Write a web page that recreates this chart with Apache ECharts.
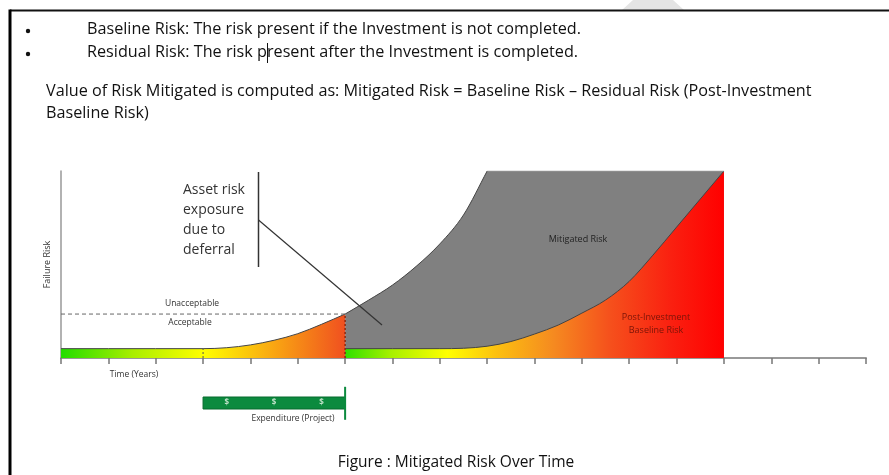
<!DOCTYPE html>
<html>
<head>
<meta charset="utf-8">
<script src="https://cdn.jsdelivr.net/npm/echarts@6/dist/echarts.min.js"></script>
<style>
  html, body { margin: 0; padding: 0; background: #fff; }
  #chart { width: 889px; height: 475px; }
</style>
</head>
<body>
<div id="chart"></div>
<script>
  // time in years (x), failure risk 0-100 (y)
  const timeTicks = [0, 17];
  const riskRange = [0, 100];

  // baseline risk before the investment is done
  const baselineBefore = [
    [0, 5], [1, 5], [2, 5], [3, 5], [3.5, 5.5], [4, 7], [4.5, 9.5],
    [5, 13], [5.5, 18], [6, 23.5]
  ];
  // baseline risk if the investment is deferred
  const baselineAfter = [
    [6, 23.5], [6.5, 31], [7, 39], [7.5, 49], [8, 61], [8.5, 76.5], [9, 100]
  ];
  const baselineCap = [[9, 100], [14, 100]];
  // residual risk once the investment is completed
  const residualRisk = [
    [6, 5], [7, 5], [8, 5], [8.5, 5.2], [9, 6.3], [9.5, 8.8], [10, 12.8],
    [10.5, 17.6], [11, 24], [11.5, 31], [12, 41], [12.5, 55], [13, 70],
    [13.5, 85], [14, 100]
  ];
  const threshold = [[0, 23.5], [6, 23.5]];
  const investLine = [[6, 0], [6, 23.5]];
  const midLine = [[3, 0], [3, 5]];

  // expenditure (project) span and the $ marks
  const expenditure = [[3, 6]];
  const dollars = [[3.5, 0.5], [4.5, 0.5], [5.5, 0.5]];
  const expEnd = [[6, -0.9], [6, 1.85]];

  const chart = echarts.init(document.getElementById('chart'));
  const lbl = 'Open Sans';
  const docFont = '16.2px "Open Sans"';
  const grad = (stops) => new echarts.graphic.LinearGradient(0, 0, 1, 0, stops);

  // monotone cubic path through pixel points (x increasing)
  function curvePath(pts, move) {
    const n = pts.length, d = [], m = [];
    for (let i = 0; i < n - 1; i++) d[i] = (pts[i + 1][1] - pts[i][1]) / (pts[i + 1][0] - pts[i][0]);
    m[0] = d[0]; m[n - 1] = d[n - 2];
    for (let i = 1; i < n - 1; i++) m[i] = d[i - 1] * d[i] <= 0 ? 0 : (d[i - 1] + d[i]) / 2;
    for (let i = 0; i < n - 1; i++) {
      if (d[i] === 0) { m[i] = 0; m[i + 1] = 0; continue; }
      const a = m[i] / d[i], b = m[i + 1] / d[i], s = a * a + b * b;
      if (s > 9) { const t = 3 / Math.sqrt(s); m[i] = t * a * d[i]; m[i + 1] = t * b * d[i]; }
    }
    let p = (move ? 'M' : 'L') + pts[0][0] + ',' + pts[0][1];
    for (let i = 0; i < n - 1; i++) {
      const h = (pts[i + 1][0] - pts[i][0]) / 3;
      p += ' C' + (pts[i][0] + h) + ',' + (pts[i][1] + m[i] * h) + ' ' +
        (pts[i + 1][0] - h) + ',' + (pts[i + 1][1] - m[i + 1] * h) + ' ' +
        pts[i + 1][0] + ',' + pts[i + 1][1];
    }
    return p;
  }

  // filled region under a curve (plus optional straight tail), outlined on top
  function areaSeries(curve, tail, fill, z) {
    return {
      type: 'custom', z, data: [[curve[0][0], curve[0][1]]],
      renderItem(params, api) {
        const pts = curve.map(p => api.coord(p));
        const tailPts = (tail || []).map(p => api.coord(p));
        const lastX = tail ? tail[tail.length - 1][0] : curve[curve.length - 1][0];
        const b1 = api.coord([lastX, 0]);
        const b0 = api.coord([curve[0][0], 0]);
        const top = curvePath(pts, true) + tailPts.map(p => ' L' + p[0] + ',' + p[1]).join('');
        const area = top + ' L' + b1[0] + ',' + b1[1] + ' L' + b0[0] + ',' + b0[1] + ' Z';
        return {
          type: 'group',
          children: [
            { type: 'path', shape: { pathData: area }, style: { fill, stroke: null } },
            { type: 'path', shape: { pathData: curvePath(pts, true) }, style: { fill: null, stroke: '#444', lineWidth: 1 } }
          ]
        };
      }
    };
  }

  // where the text cursor sits in the second bullet
  const ctx = document.createElement('canvas').getContext('2d');
  ctx.font = docFont;
  const cursorX = Math.round(87 + ctx.measureText('Residual Risk: The risk p').width) + 0.5;

  const txt = (x, y, text, font, fill, align, extra) => ({
    type: 'text', x, y, z: 100,
    style: Object.assign({ text, font, fill, align: align || 'left', verticalAlign: 'middle' }, extra || {})
  });

  chart.setOption({
    animation: false,
    grid: [
      { left: 61, right: 23, top: 171, bottom: 117 },
      { left: 61, right: 23, top: 385, bottom: 54 }
    ],
    xAxis: [
      {
        type: 'value', min: timeTicks[0], max: timeTicks[1], interval: 1,
        axisLine: { lineStyle: { color: '#999', width: 2 } },
        axisTick: { length: 6, lineStyle: { color: '#777', width: 1.5 } },
        axisLabel: { show: false },
        splitLine: { show: false }
      },
      {
        gridIndex: 1, type: 'value', min: timeTicks[0], max: timeTicks[1], show: false
      }
    ],
    yAxis: [
      {
        type: 'value', min: riskRange[0], max: riskRange[1],
        name: 'Failure Risk', nameLocation: 'middle', nameGap: 9, nameRotate: 90,
        nameTextStyle: { fontFamily: lbl, fontSize: 9, color: '#333' },
        axisLine: { show: true, lineStyle: { color: '#999', width: 1.5 } },
        axisTick: { show: false },
        axisLabel: { show: false },
        splitLine: { show: false }
      },
      { gridIndex: 1, type: 'value', min: -1, max: 2, show: false }
    ],
    series: [
      areaSeries(baselineAfter, baselineCap, '#808080', 2),
      areaSeries(residualRisk, null, grad([
        { offset: 0, color: '#2fe000' },
        { offset: 0.12, color: '#a6f000' },
        { offset: 0.27, color: '#ffff00' },
        { offset: 0.4, color: '#fcc010' },
        { offset: 0.55, color: '#f58a20' },
        { offset: 0.7, color: '#f5501c' },
        { offset: 0.86, color: '#fa2010' },
        { offset: 1, color: '#ff0000' }
      ]), 3),
      areaSeries(baselineBefore, null, grad([
        { offset: 0, color: '#22dd00' },
        { offset: 0.25, color: '#a8ee00' },
        { offset: 0.5, color: '#ffff00' },
        { offset: 0.72, color: '#fab010' },
        { offset: 1, color: '#f05020' }
      ]), 3),
      {
        type: 'line', data: baselineCap, symbol: 'none', z: 4,
        lineStyle: { color: '#9a9a9a', width: 1 }
      },
      {
        type: 'line', data: threshold, symbol: 'none', z: 4,
        lineStyle: { color: '#666', width: 1, type: [4, 3] }
      },
      {
        type: 'line', data: investLine, symbol: 'none', z: 4,
        lineStyle: { color: '#8a2a10', width: 1.5, type: [2, 2] }
      },
      {
        type: 'line', data: midLine, symbol: 'none', z: 4,
        lineStyle: { color: '#555', width: 1, type: [2, 2] }
      },
      {
        type: 'custom', xAxisIndex: 1, yAxisIndex: 1, data: expenditure,
        renderItem(params, api) {
          const s = api.coord([api.value(0), 1]);
          const e = api.coord([api.value(1), 0]);
          return {
            type: 'rect',
            shape: { x: s[0], y: s[1], width: e[0] - s[0], height: e[1] - s[1] },
            style: { fill: '#0b8a3e', stroke: '#066a2c', lineWidth: 1 }
          };
        }
      },
      {
        type: 'line', xAxisIndex: 1, yAxisIndex: 1, data: expEnd, symbol: 'none', clip: false,
        lineStyle: { color: '#0b8a3e', width: 2 }
      },
      {
        type: 'scatter', xAxisIndex: 1, yAxisIndex: 1, data: dollars, symbolSize: 0,
        label: {
          show: true, position: 'inside', formatter: '$',
          color: '#e8f5e8', fontSize: 8, fontWeight: 'bold', fontFamily: lbl
        }
      }
    ],
    graphic: [
      // page frame
      { type: 'polygon', z: 90, shape: { points: [[633, 0], [673, 0], [684, 10], [622, 10]] }, style: { fill: '#e4e4e4' } },
      { type: 'line', z: 91, shape: { x1: 10, y1: 10.5, x2: 889, y2: 10.5 }, style: { stroke: '#111', lineWidth: 2 } },
      { type: 'line', z: 91, shape: { x1: 10, y1: 9.5, x2: 10, y2: 475 }, style: { stroke: '#000', lineWidth: 3 } },
      // document text
      { type: 'circle', z: 100, shape: { cx: 28, cy: 31, r: 2.2 }, style: { fill: '#111' } },
      { type: 'circle', z: 100, shape: { cx: 28, cy: 54, r: 2.2 }, style: { fill: '#111' } },
      txt(87, 29, 'Baseline Risk: The risk present if the Investment is not completed.', docFont, '#111'),
      txt(87, 52, 'Residual Risk: The risk present after the Investment is completed.', docFont, '#111'),
      { type: 'line', z: 100, shape: { x1: cursorX, y1: 43, x2: cursorX, y2: 63 }, style: { stroke: '#111', lineWidth: 1 } },
      txt(46, 91, 'Value of Risk Mitigated is computed as: Mitigated Risk = Baseline Risk \u2013 Residual Risk (Post-Investment', docFont, '#111'),
      txt(46, 113, 'Baseline Risk)', docFont, '#111'),
      txt(456, 463, 'Figure : Mitigated Risk Over Time', '15.5px "Open Sans"', '#111', 'center'),
      // chart annotations
      txt(183, 220, 'Asset risk\nexposure\ndue to\ndeferral', '14px "Open Sans"', '#333', 'left', { lineHeight: 20.3 }),
      { type: 'line', z: 100, shape: { x1: 258.5, y1: 172, x2: 258.5, y2: 267 }, style: { stroke: '#333', lineWidth: 1.5 } },
      { type: 'line', z: 100, shape: { x1: 258.5, y1: 220, x2: 382, y2: 325 }, style: { stroke: '#333', lineWidth: 1.2 } },
      txt(192, 304, 'Unacceptable', '8.5px "Open Sans"', '#333', 'center'),
      txt(190, 323, 'Acceptable', '8.5px "Open Sans"', '#333', 'center'),
      txt(134, 375, 'Time (Years)', '8.5px "Open Sans"', '#333', 'center'),
      txt(293, 419, 'Expenditure (Project)', '8.5px "Open Sans"', '#333', 'center'),
      txt(578, 239, 'Mitigated Risk', '9px "Open Sans"', '#222', 'center'),
      txt(656, 324, 'Post-Investment\nBaseline Risk', '9px "Open Sans"', '#7a1408', 'center', { lineHeight: 12.5 })
    ]
  });
</script>
</body>
</html>
